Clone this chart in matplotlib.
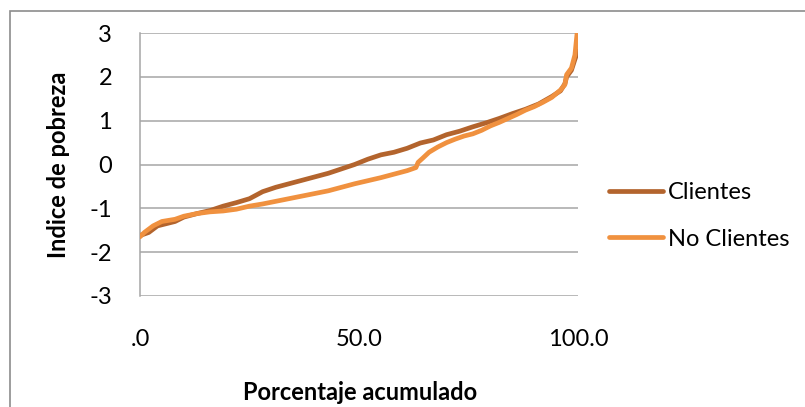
import matplotlib
matplotlib.use("Agg")
import matplotlib.pyplot as plt
from matplotlib.patches import Rectangle

plt.rcParams["font.family"] = ["Lato", "DejaVu Sans"]

# Cumulative percentage (x) and poverty index (y) for each group
clientes_pct = [0, 2, 4, 6, 8, 10, 13, 16, 19, 22, 25, 28, 31, 34, 37, 40, 43,
                46, 49, 52, 55, 58, 61, 64, 67, 70, 73, 76, 79, 82, 85, 88, 91,
                94, 96, 97, 97.4, 98.5, 99.3, 100]
clientes_idx = [-1.62, -1.55, -1.40, -1.35, -1.30, -1.20, -1.12, -1.05, -0.95,
                -0.87, -0.78, -0.62, -0.52, -0.44, -0.36, -0.28, -0.20, -0.10,
                0.00, 0.12, 0.22, 0.28, 0.37, 0.49, 0.56, 0.68, 0.76, 0.86,
                0.95, 1.05, 1.16, 1.26, 1.38, 1.55, 1.68, 1.84, 2.00, 2.15,
                2.40, 2.60]

no_clientes_pct = [0, 1, 3, 5, 8, 10, 13, 16, 19, 22, 25, 28, 31, 34, 37, 40,
                   43, 46, 49, 52, 55, 58, 61, 63, 63.5, 64.5, 66, 68, 70, 72,
                   74, 76, 78, 80, 82, 84, 86, 88, 90, 92, 94, 96, 97, 97.4,
                   98.5, 99.3, 99.8, 100]
no_clientes_idx = [-1.65, -1.55, -1.40, -1.30, -1.25, -1.18, -1.12, -1.08,
                   -1.06, -1.02, -0.95, -0.90, -0.84, -0.78, -0.72, -0.66,
                   -0.60, -0.52, -0.44, -0.37, -0.30, -0.22, -0.14, -0.07,
                   0.05, 0.14, 0.28, 0.40, 0.50, 0.58, 0.65, 0.70, 0.78, 0.88,
                   0.96, 1.05, 1.14, 1.24, 1.32, 1.42, 1.53, 1.70, 1.82, 2.05,
                   2.20, 2.50, 3.00, 3.00]

x_ticks = [0, 50, 100]
x_tick_labels = [".0", "50.0", "100.0"]
y_ticks = [-3, -2, -1, 0, 1, 2, 3]

W, H = 805, 407
fig = plt.figure(figsize=(W / 100, H / 100), dpi=100)

# Chart-area frame (extends past the right and bottom edges)
fig.patches.append(Rectangle((10 / W, -0.2), 1.2, 1.2 - 11 / H,
                             transform=fig.transFigure, fill=False,
                             edgecolor="#8c8c8c", linewidth=1.2))

ax = fig.add_axes([140 / W, 1 - 296 / H, (578 - 140) / W, (296 - 33) / H])

c_cli = "#B3642D"
c_no = "#F0913F"
ax.plot(clientes_pct, clientes_idx, color=c_cli, linewidth=3.4,
        solid_capstyle="round", label="Clientes", zorder=3)
ax.plot(no_clientes_pct, no_clientes_idx, color=c_no, linewidth=3.4,
        solid_capstyle="round", label="No Clientes", zorder=4)

ax.set_xlim(0, 100)
ax.set_ylim(-3, 3)
ax.set_xticks(x_ticks)
ax.set_xticklabels(x_tick_labels)
ax.set_yticks(y_ticks)
ax.set_yticklabels([str(v) for v in y_ticks])
ax.yaxis.grid(True, color="#a6a6a6", linewidth=1.1)
ax.set_axisbelow(True)

for side in ("top", "right", "bottom"):
    ax.spines[side].set_visible(False)
ax.spines["left"].set_color("#a6a6a6")
ax.spines["left"].set_linewidth(1.1)

ax.tick_params(axis="both", length=0, labelsize=17, colors="#000000")
ax.tick_params(axis="x", pad=24)
ax.tick_params(axis="y", pad=20)

fig.text(58 / W, 1 - 165 / H, "Indice de pobreza", rotation=90,
         ha="center", va="center", fontsize=17, fontweight="bold")
fig.text(360 / W, 1 - 393 / H, "Porcentaje acumulado",
         ha="center", va="center", fontsize=17, fontweight="bold")

ax.legend(loc="upper left", bbox_to_anchor=(609 / W, 1 - 182 / H),
          bbox_transform=fig.transFigure, frameon=False, fontsize=17,
          handlelength=2.3, handletextpad=0.2, labelspacing=1.08,
          borderpad=0, borderaxespad=0)

fig.savefig("out.png", dpi=100)
